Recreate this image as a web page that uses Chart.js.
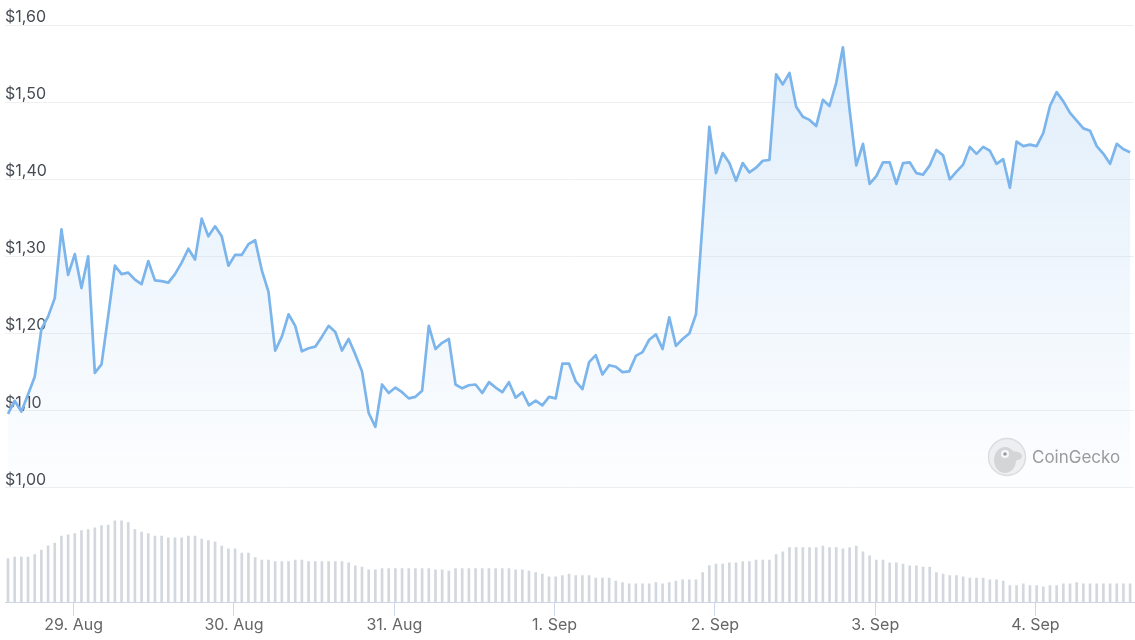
<!DOCTYPE html>
<html>
<head>
<meta charset="utf-8">
<script src="https://cdn.jsdelivr.net/npm/chart.js@4.4.1/dist/chart.umd.min.js"></script>
<style>
  html, body { margin: 0; padding: 0; background: #fff; }
  #wrap { width: 1135px; height: 640px; position: relative; }
</style>
</head>
<body>
<div id="wrap"><canvas id="price-chart"></canvas></div>
<script>
// Hourly samples, first one on 28 Aug at 14:10
const firstSampleHour = 14 + 10 / 60;
const dayLabels = ['29. Aug', '30. Aug', '31. Aug', '1. Sep', '2. Sep', '3. Sep', '4. Sep'];
const priceTicks = [1.0, 1.1, 1.2, 1.3, 1.4, 1.5, 1.6];

// Price in USD, one value per hour
const prices = [
  1.096, 1.113, 1.099, 1.121, 1.144, 1.206, 1.222, 1.246, 1.335, 1.276,
  1.303, 1.259, 1.300, 1.149, 1.160, 1.223, 1.288, 1.277, 1.279, 1.270,
  1.264, 1.294, 1.269, 1.268, 1.266, 1.277, 1.292, 1.310, 1.296, 1.349,
  1.326, 1.339, 1.326, 1.288, 1.302, 1.302, 1.316, 1.321, 1.282, 1.254,
  1.178, 1.196, 1.225, 1.210, 1.177, 1.181, 1.183, 1.196, 1.210, 1.202,
  1.178, 1.193, 1.173, 1.151, 1.097, 1.079, 1.134, 1.123, 1.130, 1.124,
  1.116, 1.118, 1.126, 1.210, 1.180, 1.188, 1.193, 1.134, 1.129, 1.133,
  1.134, 1.123, 1.137, 1.130, 1.124, 1.137, 1.117, 1.124, 1.107, 1.113,
  1.107, 1.118, 1.116, 1.161, 1.161, 1.138, 1.128, 1.163, 1.172, 1.147,
  1.159, 1.157, 1.150, 1.151, 1.171, 1.176, 1.192, 1.199, 1.180, 1.221,
  1.184, 1.193, 1.200, 1.225, 1.345, 1.468, 1.408, 1.434, 1.421, 1.398,
  1.421, 1.409, 1.415, 1.424, 1.425, 1.536, 1.523, 1.538, 1.494, 1.481,
  1.477, 1.469, 1.503, 1.495, 1.525, 1.571, 1.490, 1.418, 1.446, 1.394,
  1.404, 1.422, 1.422, 1.394, 1.421, 1.422, 1.408, 1.406, 1.418, 1.438,
  1.431, 1.400, 1.410, 1.419, 1.442, 1.433, 1.442, 1.437, 1.420, 1.426,
  1.389, 1.449, 1.443, 1.445, 1.443, 1.460, 1.495, 1.513, 1.501, 1.486,
  1.476, 1.466, 1.463, 1.443, 1.433, 1.420, 1.446, 1.439, 1.435
];

// Traded volume in millions USD, one value per hour
const volumes = [
  13.3, 13.7, 13.7, 13.7, 14.5, 15.8, 17.1, 17.9, 20.0, 20.4,
  20.8, 21.7, 22.0, 22.5, 23.2, 23.3, 24.6, 24.6, 24.1, 22.0,
  21.2, 20.8, 20.0, 20.0, 19.5, 19.5, 19.5, 20.0, 20.0, 19.1,
  18.7, 18.3, 17.0, 16.2, 16.2, 14.9, 14.9, 13.6, 12.8, 12.8,
  12.4, 12.4, 12.4, 12.8, 12.8, 12.4, 12.4, 12.4, 12.4, 12.4,
  12.4, 12.0, 11.1, 10.7, 9.9, 9.9, 10.3, 10.3, 10.3, 10.3,
  10.3, 10.3, 10.3, 10.3, 9.9, 9.9, 9.5, 10.3, 10.3, 10.3,
  10.3, 10.3, 10.3, 10.3, 10.3, 10.3, 9.9, 9.9, 9.5, 9.1,
  8.6, 7.8, 7.8, 8.2, 8.6, 8.2, 8.2, 8.2, 7.4, 7.4,
  7.4, 6.5, 6.1, 5.7, 5.7, 5.7, 5.7, 6.1, 5.7, 6.1,
  6.5, 6.9, 6.9, 6.9, 9.1, 11.2, 11.6, 11.6, 12.0, 12.0,
  12.4, 12.4, 12.8, 12.8, 12.8, 14.5, 15.3, 16.6, 16.6, 16.6,
  16.6, 16.6, 17.0, 16.6, 16.6, 16.2, 16.6, 17.0, 15.3, 14.1,
  12.8, 12.8, 12.0, 12.0, 11.6, 11.1, 11.1, 10.7, 10.7, 9.1,
  8.6, 8.2, 8.2, 7.8, 7.4, 7.4, 7.4, 6.9, 6.9, 6.5,
  5.2, 5.2, 5.7, 5.2, 5.2, 4.8, 5.2, 5.2, 5.7, 5.7,
  6.1, 5.7, 5.7, 5.7, 5.7, 5.7, 5.7, 5.7, 5.7
];

const LINE_COLOR = '#7cb5ec';
const FONT = 'Inter, "Noto Sans", sans-serif';

const hours = prices.map((_, i) => i);
const dayTicks = dayLabels.map((_, k) => 24 * (k + 1) - firstSampleHour);

// CoinGecko watermark, drawn under the datasets
const watermark = {
  id: 'watermark',
  beforeDatasetsDraw(chart) {
    const { ctx, chartArea } = chart;
    const cx = chartArea.right - 127;
    const cy = chart.scales.y.getPixelForValue(1.04);
    ctx.save();
    ctx.beginPath();
    ctx.arc(cx, cy, 18.5, 0, Math.PI * 2);
    ctx.fillStyle = '#f1f1f1';
    ctx.fill();
    ctx.lineWidth = 1.5;
    ctx.strokeStyle = '#dedede';
    ctx.stroke();
    // head
    ctx.beginPath();
    ctx.ellipse(cx - 2, cy + 3, 11, 13, 0, 0, Math.PI * 2);
    ctx.fillStyle = '#d6d6d6';
    ctx.fill();
    ctx.beginPath();
    ctx.ellipse(cx + 8, cy - 1, 7, 4.5, 0, 0, Math.PI * 2);
    ctx.fill();
    // eye
    ctx.beginPath();
    ctx.arc(cx - 2, cy - 3, 4, 0, Math.PI * 2);
    ctx.fillStyle = '#fafafa';
    ctx.fill();
    ctx.beginPath();
    ctx.arc(cx - 2, cy - 3, 1.8, 0, Math.PI * 2);
    ctx.fillStyle = '#9a9a9a';
    ctx.fill();
    ctx.fillStyle = '#9a9a9a';
    ctx.font = '17px ' + FONT;
    ctx.textBaseline = 'middle';
    ctx.fillText('CoinGecko', cx + 25, cy + 1);
    ctx.restore();
  }
};

const ctx = document.getElementById('price-chart').getContext('2d');

new Chart(ctx, {
  type: 'line',
  data: {
    datasets: [
      {
        type: 'line',
        data: hours.map((h, i) => ({ x: h, y: prices[i] })),
        yAxisID: 'y',
        borderColor: LINE_COLOR,
        borderWidth: 2.7,
        borderJoinStyle: 'round',
        pointRadius: 0,
        tension: 0,
        fill: { value: 1.0 },
        backgroundColor: (c) => {
          const { chart } = c;
          const { chartArea, scales } = chart;
          if (!chartArea) return 'rgba(124, 181, 236, 0.1)';
          const g = chart.ctx.createLinearGradient(0, scales.y.getPixelForValue(1.6), 0, scales.y.getPixelForValue(1.0));
          g.addColorStop(0, 'rgba(124, 181, 236, 0.24)');
          g.addColorStop(1, 'rgba(124, 181, 236, 0.02)');
          return g;
        },
        order: 1
      },
      {
        type: 'bar',
        data: hours.map((h, i) => ({ x: h, y: volumes[i] })),
        yAxisID: 'vol',
        backgroundColor: '#d3d7de',
        barThickness: 2,
        order: 2
      }
    ]
  },
  options: {
    responsive: true,
    maintainAspectRatio: false,
    animation: false,
    layout: { padding: { left: 5, right: 1, top: 25, bottom: 5 } },
    plugins: {
      legend: { display: false },
      tooltip: { enabled: false }
    },
    scales: {
      x: {
        type: 'linear',
        min: -0.45,
        max: 168.58,
        offset: false,
        afterBuildTicks: (scale) => { scale.ticks = dayTicks.map(v => ({ value: v })); },
        ticks: {
          autoSkip: false,
          maxRotation: 0,
          padding: 0,
          color: '#666',
          font: { family: FONT, size: 16 },
          callback: (v, i) => dayLabels[i]
        },
        grid: { offset: false, drawOnChartArea: false, color: '#ccd6eb', tickLength: 13 },
        border: { color: '#ccd6eb' }
      },
      y: {
        min: 0.851,
        max: 1.6,
        afterBuildTicks: (scale) => { scale.ticks = priceTicks.map(v => ({ value: v })); },
        ticks: {
          mirror: true,
          padding: 0,
          labelOffset: -8,
          color: '#474c54',
          font: { family: FONT, size: 16 },
          callback: (v) => '$' + v.toFixed(2).replace('.', ',')
        },
        grid: { color: '#efefef', drawTicks: false },
        border: { display: false }
      },
      vol: {
        display: false,
        min: 0,
        max: 173.4
      }
    }
  },
  plugins: [watermark]
});
</script>
</body>
</html>
